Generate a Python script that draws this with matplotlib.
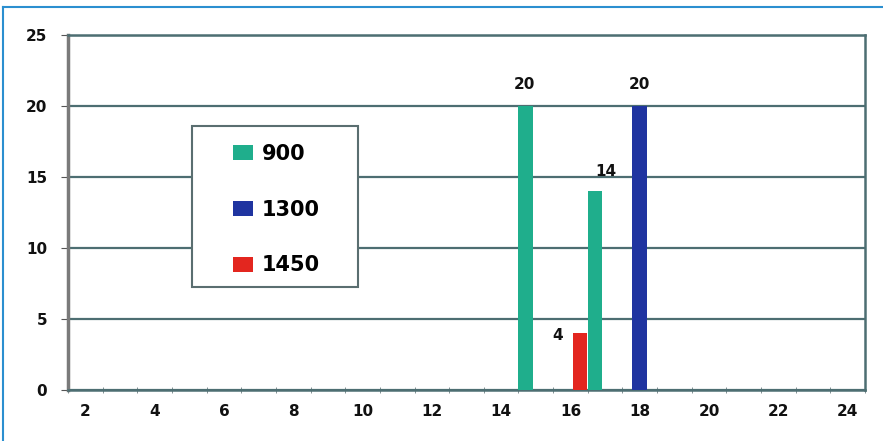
import matplotlib as mpl
mpl.use('Agg')
import numpy as np
import matplotlib.pyplot as plt
from matplotlib.lines import Line2D
from matplotlib.patches import Patch, Rectangle

# categories on the x axis (every other one is labelled)
categories = list(range(2, 25))
series_names = ["900", "1300", "1450"]
series_colors = ["#1fae8c", "#1f34a0", "#e3261f"]
# values per series, keyed by category
values_900 = {15: 20, 17: 14}
values_1300 = {18: 20}
values_1450 = {16: 4}
series_values = [values_900, values_1300, values_1450]

y_ticks = [0, 5, 10, 15, 20, 25]
x_labels = [str(c) for c in range(2, 25, 2)]

grid_col = "#4d6e72"

fig = plt.figure(figsize=(8.83, 4.41), dpi=100)
ax = fig.add_axes([68/883, 51/441, 797/883, 355/441])

offsets = [-0.29, 0.0, 0.27]
bar_w = 0.42
# per-label nudges in points (x, y)
label_nudge = {(0, 15): (-1, 10), (0, 17): (8, 9), (1, 18): (0, 10), (2, 16): (-16, -7)}

for k, vals in enumerate(series_values):
    xs = [c + offsets[k] for c in vals]
    hs = list(vals.values())
    ax.bar(xs, hs, width=bar_w, color=series_colors[k], edgecolor="none", zorder=3)
    for c, v in vals.items():
        dx, dy = label_nudge.get((k, c), (0, 10))
        ax.annotate(str(v), (c + offsets[k], v), xytext=(dx, dy), textcoords="offset points",
                    ha="center", va="bottom", fontsize=11, fontweight="bold", color="#111111")

ax.set_xlim(categories[0] - 0.5, categories[-1] + 0.5)
ax.set_ylim(0, 25)

ax.set_yticks(y_ticks)
ax.set_yticklabels([str(t) for t in y_ticks], fontsize=11, fontweight="bold", color="#111111")
ax.set_xticks(range(2, 25, 2))
ax.set_xticklabels(x_labels, fontsize=11, fontweight="bold", color="#111111")
ax.set_xticks(np.arange(categories[0] - 0.5, categories[-1] + 0.6, 1), minor=True)
ax.tick_params(axis="x", which="major", length=0, pad=10)
ax.tick_params(axis="x", which="minor", length=4, direction="inout", color="#6e7f82")
ax.tick_params(axis="y", length=5, direction="out", color="#555555", pad=10)

ax.grid(axis="y", color=grid_col, linewidth=1.6, zorder=1)
ax.set_axisbelow(True)
ax.spines["left"].set_color("#7a7a7a")
ax.spines["left"].set_linewidth(2.5)
for s in ["top", "right", "bottom"]:
    ax.spines[s].set_color(grid_col)
    ax.spines[s].set_linewidth(1.8)

# legend box drawn separately so its size can be set freely
ax.add_patch(Rectangle((0.1556, 0.290), 0.2083, 0.4535, transform=ax.transAxes,
                       facecolor="white", edgecolor="#5a6e70", linewidth=1.5, zorder=4))
handles = [Patch(facecolor=c, edgecolor="none") for c in series_colors]
leg = ax.legend(handles, series_names, loc="center left", bbox_to_anchor=(0.207, 0.508),
                frameon=False, prop={"size": 15, "weight": "bold"},
                handlelength=0.95, handleheight=0.72, handletextpad=0.45,
                labelspacing=1.72, borderpad=0, borderaxespad=0)
leg.set_zorder(5)

# thin blue frame around the chart
fig.add_artist(Line2D([3/883, 1], [1 - 7/441, 1 - 7/441], color="#2b8fd0", linewidth=1.5))
fig.add_artist(Line2D([3/883, 3/883], [0, 1 - 7/441], color="#2b8fd0", linewidth=1.5))

fig.savefig("out.png", dpi=100)
plt.close()
